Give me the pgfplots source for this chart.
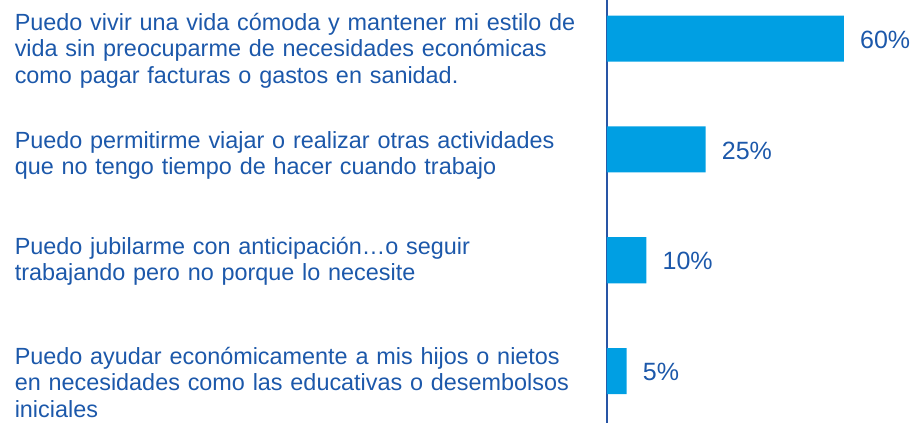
\documentclass[border=0pt]{standalone}
\usepackage{pgfplots}
\pgfplotsset{compat=1.18}
\usepackage{fontspec}
\setmainfont{Liberation Sans}
\definecolor{barblue}{RGB}{0,159,227}
\definecolor{txtblue}{RGB}{28,88,170}
\definecolor{axblue}{RGB}{40,85,165}
\begin{document}
\begin{tikzpicture}
\begin{axis}[
  name=ax,
  scale only axis,
  width=307pt, height=423pt,
  xmin=0, xmax=77.72,
  ymin=0.651, ymax=4.469,
  y dir=reverse,
  xbar, bar width=46pt,
  enlargelimits=false,
  clip=false,
  axis x line=none,
  axis y line=left,
  axis line style={-, draw=axblue, line width=1.3pt},
  xtick=\empty,
  ytick={0.7413,1.809,2.763,3.756},
  yticklabels={
    {\rule{0pt}{20pt}Puedo vivir una vida cómoda y mantener mi estilo de\\vida sin preocuparme de necesidades económicas\\como pagar facturas o gastos en sanidad.},
    {\rule{0pt}{20pt}Puedo permitirme viajar o realizar otras actividades\\que no tengo tiempo de hacer cuando trabajo},
    {\rule{0pt}{20pt}Puedo jubilarme con anticipación…o seguir\\trabajando pero no porque lo necesite},
    {\rule{0pt}{20pt}Puedo ayudar económicamente a mis hijos o nietos\\en necesidades como las educativas o desembolsos\\iniciales}
  },
  major tick length=0pt,
  ytick style={draw=none},
  yticklabel style={text width=585pt, align=left, anchor=north east, inner sep=0pt, xshift=-7pt,
    font=\fontsize{23.4pt}{26.5pt}\selectfont, text=txtblue},
  /pgf/number format/assume math mode=true,
  nodes near coords={\pgfmathprintnumber{\pgfplotspointmeta}\%},
  nodes near coords style={anchor=west, inner sep=0pt, xshift=16pt, yshift=-1pt,
    font=\fontsize{25pt}{30pt}\selectfont, text=txtblue},
]
\addplot[fill=barblue, draw=none] coordinates {(60,1) (25,2) (10,3) (5,4)};
\end{axis}
\pgfresetboundingbox
\path ([xshift=-607pt]ax.south west) rectangle ([xshift=307pt]ax.north west);
\end{tikzpicture}
\end{document}
